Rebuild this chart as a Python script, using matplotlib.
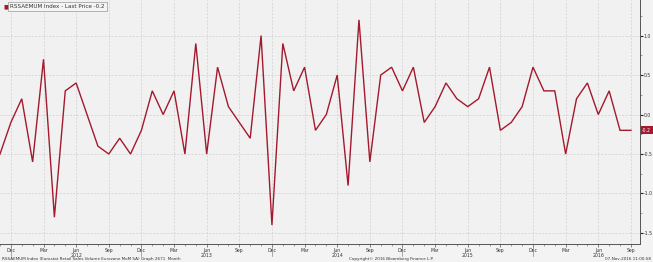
import numpy as np
import pandas as pd
import matplotlib
matplotlib.use("Agg")
import matplotlib.pyplot as plt

# monthly MoM % change, Nov 2011 .. Sep 2016
start_month = "2011-11"
values = [
    -0.5, -0.1,
    0.2, -0.6, 0.7, -1.3, 0.3, 0.4, 0.0, -0.4, -0.5, -0.3, -0.5, -0.2,
    0.3, 0.0, 0.3, -0.5, 0.9, -0.5, 0.6, 0.1, -0.1, -0.3, 1.0, -1.4,
    0.9, 0.3, 0.6, -0.2, 0.0, 0.5, -0.9, 1.2, -0.6, 0.5, 0.6, 0.3,
    0.6, -0.1, 0.1, 0.4, 0.2, 0.1, 0.2, 0.6, -0.2, -0.1, 0.1, 0.6,
    0.3, 0.3, -0.5, 0.2, 0.4, 0.0, 0.3, -0.2, -0.2,
]
y_ticks = [-1.5, -1.0, -0.5, 0.0, 0.5, 1.0]
legend_text = "RSSAEMUM Index - Last Price -0.2"
last_label = "-0.2"
footer_left = "RSSAEMUM Index (Eurostat Retail Sales Volume Eurozone MoM SA) Graph 2671  Month"
footer_mid = "Copyright\u00a9 2016 Bloomberg Finance L.P."
footer_right = "07-Nov-2016 11:00:58"

dates = pd.period_range(start_month, periods=len(values), freq="M")
x = np.arange(len(values))

line_col = "#a3192d"
txt_col = "#333333"

fig = plt.figure(figsize=(6.53, 2.62), dpi=100, facecolor="#f3f3f3")
ax = fig.add_axes([0.0, 0.0687, 0.980, 0.931])
ax.set_facecolor("#f1f1f1")

ax.plot(x, values, color=line_col, lw=1.0, solid_joinstyle="miter")

ax.set_xlim(0, len(values) - 1 + 0.83)
ax.set_ylim(-1.64, 1.45)

# x ticks: every 3 months labelled, monthly minor ticks
major = [i for i, d in enumerate(dates) if d.month in (3, 6, 9, 12)]
labels = []
for i in major:
    d = dates[i]
    lab = d.strftime("%b")
    if d.month == 6:
        lab += "\n" + str(d.year)
    labels.append(lab)
ax.set_xticks(major)
ax.set_xticklabels(labels, fontsize=3.3, color=txt_col, linespacing=0.95)
ax.set_xticks(x, minor=True)
ax.tick_params(axis="x", which="major", length=2.0, width=0.5, pad=0.8, color="#555555")
ax.tick_params(axis="x", which="minor", length=1.2, width=0.4, color="#555555")

# longer ticks at year-end months
for i, d in enumerate(dates):
    if d.month == 12:
        ax.plot([i, i], [0, -0.05], transform=ax.get_xaxis_transform(),
                color="#888888", lw=0.5, clip_on=False)

ax.yaxis.tick_right()
ax.set_yticks(y_ticks)
ax.set_yticklabels([f"{v:.1f}" for v in y_ticks], fontsize=3.3, color=txt_col)
ax.set_yticks(np.arange(-1.5, 1.5, 0.25), minor=True)
ax.tick_params(axis="y", which="major", length=2.0, width=0.8, pad=0.6, color="#222222")
ax.tick_params(axis="y", which="minor", length=1.2, width=0.4, color="#555555")

ax.grid(True, which="major", color="#cfcfcf", ls=(0, (3, 2)), lw=0.5)

for s in ["left", "top"]:
    ax.spines[s].set_visible(False)
for s in ["right", "bottom"]:
    ax.spines[s].set_color("#555555")
    ax.spines[s].set_linewidth(0.7)

# last price tag
ax.annotate(last_label, xy=(1.0, values[-1]), xycoords=("axes fraction", "data"),
            xytext=(1.6, 0), textcoords="offset points", va="center", ha="left",
            fontsize=3.3, color="white",
            bbox=dict(boxstyle="square,pad=0.3", fc=line_col, ec="none"),
            annotation_clip=False)

# legend box
ax.text(0.006, 0.972, "\u25a0", transform=ax.transAxes, fontsize=4.2, color=line_col,
        va="center", ha="left")
ax.text(0.016, 0.972, legend_text, transform=ax.transAxes, fontsize=4.1, color=txt_col,
        va="center", ha="left",
        bbox=dict(boxstyle="square,pad=0.35", fc="#f4f4f4", ec="#9a9a9a", lw=0.5))

fig.text(0.003, 0.004, footer_left, fontsize=3.0, color=txt_col, ha="left", va="bottom")
fig.text(0.535, 0.004, footer_mid, fontsize=3.0, color=txt_col, ha="left", va="bottom")
fig.text(0.997, 0.004, footer_right, fontsize=3.0, color=txt_col, ha="right", va="bottom")

fig.savefig("out.png", dpi=100, facecolor=fig.get_facecolor())
